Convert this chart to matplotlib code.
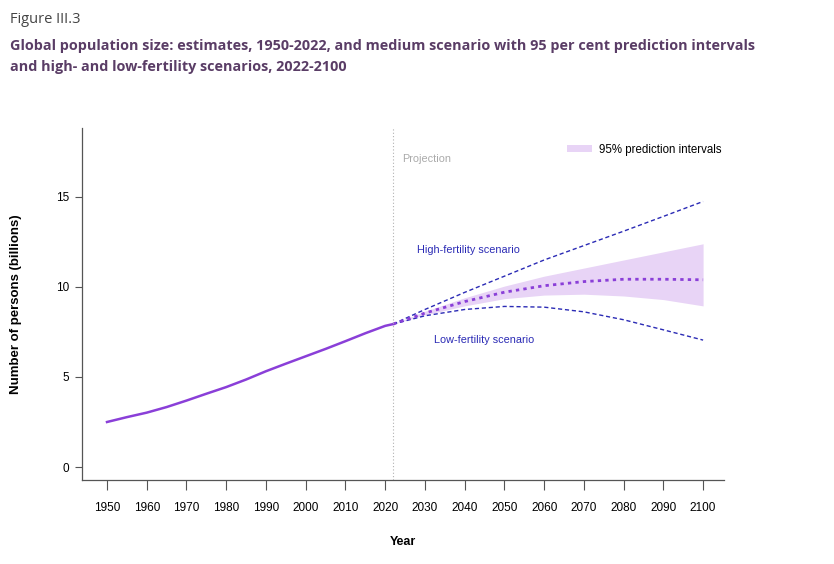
import matplotlib.pyplot as plt
import numpy as np

plt.rcParams["font.family"] = ["Liberation Sans", "DejaVu Sans"]

# estimates 1950-2022 (billions)
est_years = [1950, 1955, 1960, 1965, 1970, 1975, 1980, 1985, 1990, 1995,
             2000, 2005, 2010, 2015, 2020, 2022]
est_pop = [2.50, 2.77, 3.02, 3.33, 3.69, 4.07, 4.44, 4.86, 5.32, 5.74,
           6.15, 6.56, 6.99, 7.43, 7.84, 7.94]

# projections 2022-2100
proj_years = [2022, 2030, 2040, 2050, 2060, 2070, 2080, 2090, 2100]
medium = [7.94, 8.55, 9.19, 9.71, 10.07, 10.30, 10.43, 10.43, 10.40]
pi_low = [7.94, 8.45, 8.95, 9.35, 9.55, 9.60, 9.50, 9.30, 8.95]
pi_high = [7.94, 8.65, 9.40, 10.05, 10.60, 11.05, 11.50, 11.95, 12.40]
high_fert = [7.94, 8.75, 9.70, 10.60, 11.50, 12.30, 13.10, 13.92, 14.75]
low_fert = [7.94, 8.40, 8.75, 8.92, 8.88, 8.62, 8.18, 7.62, 7.05]

xticks = list(range(1950, 2101, 10))
yticks = [0, 5, 10, 15]

purple = "#8a3fd8"
blue = "#2b2bb5"
band = "#e8d4f6"
title_font = ["Open Sans", "DejaVu Sans"]

fig = plt.figure(figsize=(8.34, 5.64), dpi=100)
ax = fig.add_axes([0.0983, 0.149, 0.77, 0.624])

ax.fill_between(proj_years, pi_low, pi_high, color=band, linewidth=0,
                label="95% prediction intervals")
ax.plot(proj_years, high_fert, color=blue, linestyle=(0, (3, 2)), linewidth=1.0)
ax.plot(proj_years, low_fert, color=blue, linestyle=(0, (3, 2)), linewidth=1.0)
ax.plot(proj_years, medium, color=purple, linestyle=(0, (1.2, 1.5)), linewidth=2.0)
ax.plot(est_years, est_pop, color=purple, linewidth=1.8)

ax.axvline(2022, color="#b0b0b0", linestyle=(0, (1, 2)), linewidth=0.8)
ax.text(2024.2, 17.1, "Projection", color="#aaaaaa", fontsize=7.8, va="center")
ax.text(2041, 12.05, "High-fertility scenario", color=blue, fontsize=7.8,
        ha="center", va="center")
ax.text(2045, 7.05, "Low-fertility scenario", color=blue, fontsize=7.8,
        ha="center", va="center")

ax.set_xlim(1943.7, 2105.3)
ax.set_ylim(-0.72, 18.83)
ax.set_xticks(xticks)
ax.set_yticks(yticks)

for side in ["top", "right"]:
    ax.spines[side].set_visible(False)
for side in ["left", "bottom"]:
    ax.spines[side].set_color("#555555")
    ax.spines[side].set_linewidth(0.9)
ax.tick_params(axis="x", length=7, width=0.8, color="#555555", pad=9, labelsize=8.5)
ax.tick_params(axis="y", length=5, width=0.8, color="#555555", pad=4, labelsize=8.5)

ax.set_xlabel("Year", fontsize=9, fontweight="bold", labelpad=16)
ax.set_ylabel("Number of persons (billions)", fontsize=9.5, fontweight="bold", labelpad=25)

ax.legend(loc="upper right", bbox_to_anchor=(1.012, 0.985), frameon=False,
          fontsize=8.3, handlelength=2.2, handleheight=0.6, handletextpad=0.6)

fig.text(0.012, 0.965, "Figure III.3", fontsize=10.5, color="#444444",
         family=title_font, va="center")
fig.text(0.012, 0.919,
         "Global population size: estimates, 1950-2022, and medium scenario with 95 per cent prediction intervals",
         fontsize=10.4, color="#5a3d66", fontweight="bold", family=title_font, va="center")
fig.text(0.012, 0.882, "and high- and low-fertility scenarios, 2022-2100",
         fontsize=10.4, color="#5a3d66", fontweight="bold", family=title_font, va="center")

fig.savefig("out.png", dpi=100)
